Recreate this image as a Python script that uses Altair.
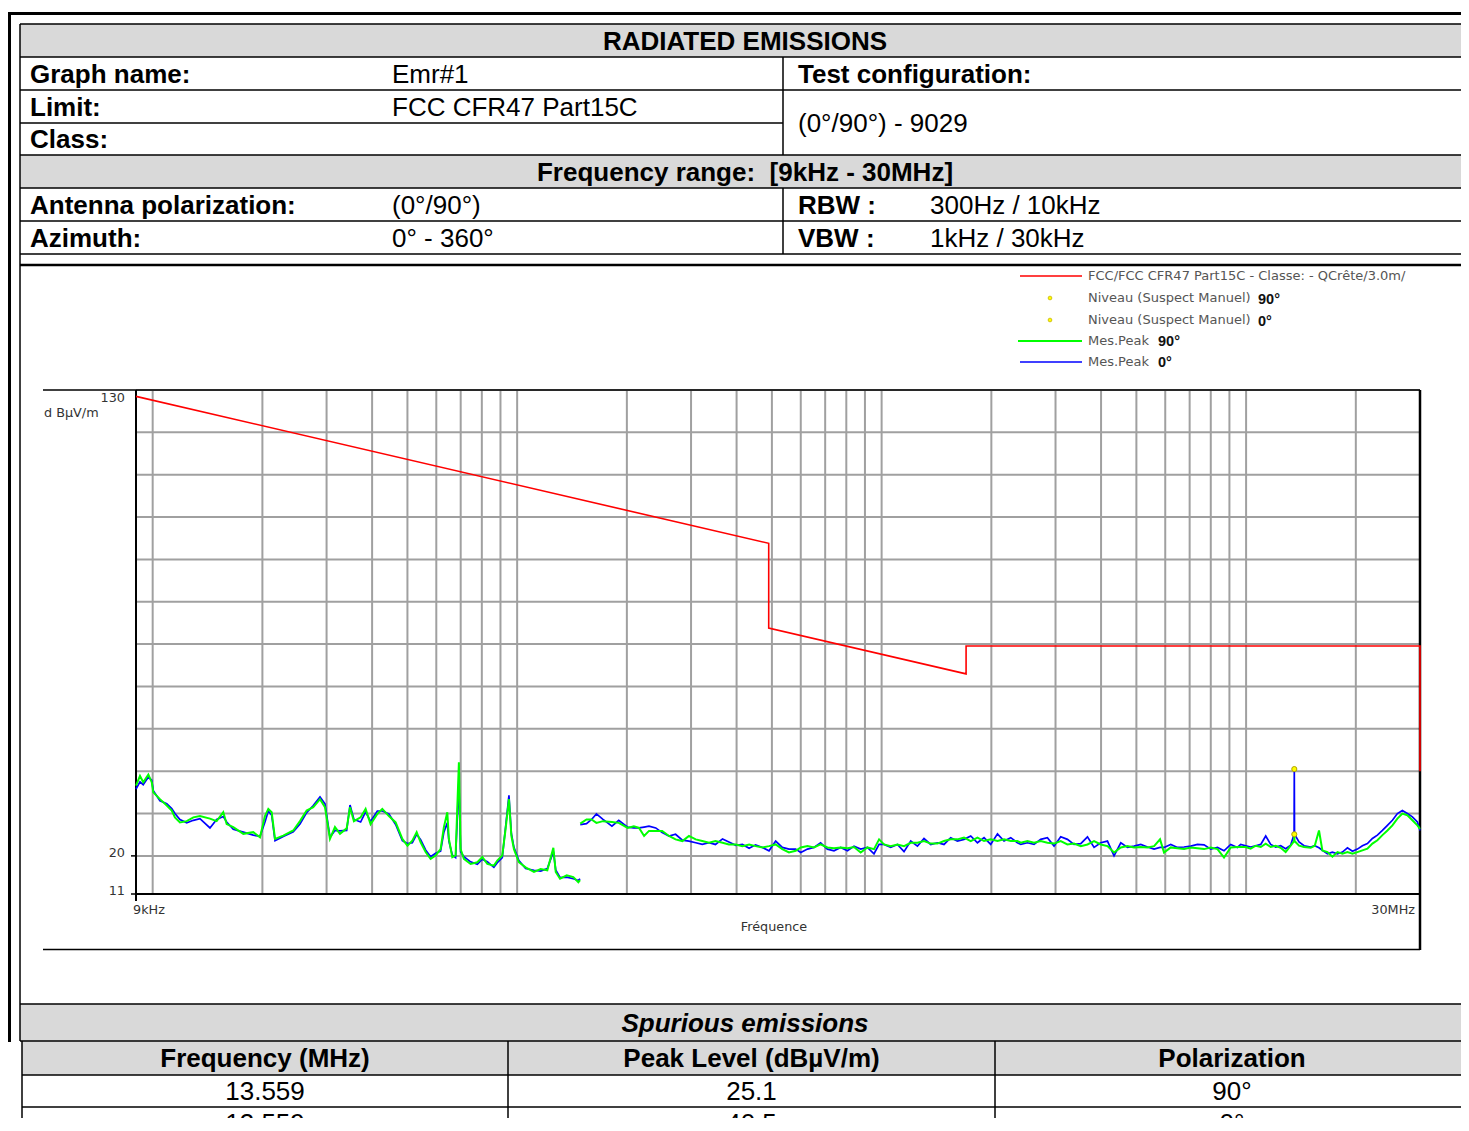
import altair as alt
import pandas as pd

# ------------------------------------------------------------------ data
report_title = "RADIATED EMISSIONS"
info_labels = ["Graph name:", "Limit:", "Class:"]
info_values = ["Emr#1", "FCC CFR47 Part15C", ""]
config_label = "Test configuration:"
config_value = "(0°/90°) - 9029"
range_label = "Frequency range:\u00a0 [9kHz - 30MHz]"
antenna_labels = ["Antenna polarization:", "Azimuth:"]
antenna_values = ["(0°/90°)", "0° - 360°"]
bw_labels = ["RBW :", "VBW :"]
bw_values = ["300Hz / 10kHz", "1kHz / 30kHz"]

legend_limit = "FCC/FCC CFR47 Part15C - Classe: - QCrête/3.0m/"
legend_suspect = "Niveau (Suspect Manuel)"
legend_peak = "Mes.Peak"
legend_pols = ["90°", "0°"]

y_unit = "d BµV/m"
x_title = "Fréquence"
x_tick_freq = [0.009, 30.0]
x_tick_text = ["9kHz", "30MHz"]
y_tick_level = [130, 20, 11]

grid_freq = [0.01, 0.02, 0.03, 0.04, 0.05, 0.06, 0.07, 0.08, 0.09,
             0.1, 0.2, 0.3, 0.4, 0.5, 0.6, 0.7, 0.8, 0.9,
             1, 2, 3, 4, 5, 6, 7, 8, 9, 10, 20]
grid_level = [20, 30, 40, 50, 60, 70, 80, 90, 100, 110, 120, 130]

limit_freq = [0.009, 0.49, 0.49, 1.705, 1.705, 30.0, 30.0]
limit_level = [128.5, 93.8, 73.8, 62.97, 69.54, 69.54, 40.0]

# 9 kHz - 150 kHz (MHz)
seg1_freq = [0.009, 0.00923, 0.00942, 0.00973, 0.00994, 0.01004, 0.01047, 0.01093, 0.01128, 0.01151,
             0.01188, 0.0124, 0.01293, 0.01348, 0.01436, 0.01498, 0.01562, 0.01596, 0.01664, 0.01773,
             0.01888, 0.0197, 0.02033, 0.02076, 0.02121, 0.02166, 0.02282, 0.02431, 0.02536, 0.02645,
             0.02758, 0.02878, 0.0297, 0.03065, 0.03163, 0.03265, 0.03406, 0.03479, 0.03566, 0.0372,
             0.03839, 0.03962, 0.04134, 0.04266, 0.04448, 0.04641, 0.04842, 0.05, 0.05157, 0.053,
             0.05435, 0.05609, 0.05788, 0.05973, 0.06165, 0.06295, 0.06432, 0.06497, 0.06638, 0.06778,
             0.06921, 0.06996, 0.07143, 0.07452, 0.07776, 0.08025, 0.08283, 0.08633, 0.0882, 0.09103,
             0.093, 0.09495, 0.0964, 0.098, 0.1011, 0.1055, 0.1112, 0.116, 0.121, 0.1257,
             0.1276, 0.1311, 0.1368, 0.1426, 0.1472, 0.1488]
seg1_green = [36.6, 38.9, 37.4, 39.2, 37.4, 35.0, 33.4, 31.9, 30.7, 29.1,
              27.9, 28.2, 29.1, 29.4, 28.8, 28.2, 30.3, 27.5, 26.8, 25.2,
              25.6, 24.4, 29.4, 31.1, 30.3, 24.0, 24.8, 26.0, 28.2, 30.7,
              31.5, 33.4, 31.5, 24.0, 26.8, 25.2, 26.5, 31.5, 28.2, 29.1,
              31.1, 27.5, 29.9, 31.1, 29.4, 27.9, 24.0, 22.4, 23.6, 25.6,
              23.2, 20.9, 19.3, 20.1, 21.6, 26.8, 30.3, 24.0, 19.7, 20.1,
              42.1, 21.6, 19.3, 18.1, 18.5, 19.7, 18.1, 17.7, 18.9, 20.1,
              26.5, 33.4, 24.8, 21.6, 18.5, 17.3, 16.2, 16.9, 16.6, 21.9,
              16.2, 14.6, 15.4, 15.0, 13.8, 14.3]
seg1_blue = [35.8, 37.5, 36.8, 38.6, 37.9, 35.4, 33.0, 32.3, 31.2, 30.0,
             28.6, 27.8, 28.4, 28.8, 26.6, 28.6, 29.3, 28.0, 26.3, 25.6,
             24.9, 24.6, 28.0, 30.6, 29.6, 23.6, 24.6, 25.7, 27.5, 30.2,
             31.9, 33.9, 32.3, 24.4, 26.0, 25.9, 26.0, 32.0, 28.6, 28.0,
             30.4, 28.1, 30.6, 30.6, 29.9, 27.4, 23.6, 22.9, 23.1, 25.1,
             23.8, 21.4, 19.8, 20.6, 21.1, 25.6, 27.8, 23.5, 20.2, 19.6,
             37.5, 21.0, 19.8, 18.6, 18.0, 19.2, 18.6, 17.3, 18.4, 19.6,
             27.0, 34.3, 25.3, 22.0, 18.9, 17.0, 16.6, 16.4, 17.0, 21.0,
             16.7, 14.9, 15.0, 14.6, 14.2, 14.6]

# 150 kHz - 30 MHz (MHz)
seg2_freq = [0.149, 0.155, 0.16, 0.165, 0.172, 0.182, 0.19, 0.201, 0.209, 0.216,
             0.223, 0.23, 0.24, 0.25, 0.261, 0.272, 0.284, 0.296, 0.309, 0.322,
             0.336, 0.35, 0.366, 0.381, 0.398, 0.415, 0.433, 0.451, 0.471, 0.491,
             0.512, 0.534, 0.557, 0.581,
             0.6, 0.626, 0.652, 0.68, 0.71, 0.74, 0.772, 0.806, 0.84, 0.876,
             0.914, 0.953, 0.984, 1.015, 1.059, 1.105, 1.152, 1.202, 1.254, 1.307,
             1.364, 1.423, 1.483, 1.547, 1.614, 1.683, 1.756, 1.832, 1.91, 1.992,
             2.079, 2.167, 2.261, 2.358,
             2.409, 2.512, 2.619, 2.732, 2.85, 2.972, 3.1, 3.234, 3.372, 3.519,
             3.671, 3.827, 3.992, 4.165, 4.342, 4.531, 4.727, 4.928, 5.141, 5.363,
             5.592, 5.806, 5.955, 6.212, 6.481, 6.756, 7.049, 7.354, 7.669, 8.0,
             8.346, 8.698, 9.074, 9.465,
             9.665, 9.975, 10.29, 10.63, 10.97, 11.32, 11.68, 12.06, 12.44, 12.84,
             13.25, 13.54, 13.559, 13.58, 13.97, 14.42, 15.04, 15.43, 15.85, 16.19,
             16.72, 17.25, 17.81, 18.38, 18.97, 19.58, 20.2, 20.85, 21.52, 22.21,
             22.92, 23.66, 24.42, 25.2, 26.01, 26.84, 27.7, 28.59, 29.51, 30.0]
seg2_green = [27.6, 28.6, 28.6, 27.8, 28.2, 28.0, 27.8, 26.6, 27.0, 26.6,
              24.7, 25.9, 25.9, 25.9, 24.7, 23.9, 23.5, 24.7, 23.9, 23.5,
              23.1, 23.5, 23.1, 22.7, 22.7, 22.3, 22.7, 22.3, 22.0, 22.3,
              22.7, 21.6, 20.8, 21.2,
              22.0, 22.3, 22.0, 22.7, 22.0, 21.8, 22.0, 21.8, 22.1, 20.8,
              22.0, 21.6, 23.9, 22.7, 22.3, 22.7, 22.3, 23.1, 23.1, 23.5,
              22.9, 22.9, 23.5, 23.9, 23.9, 24.3, 23.5, 24.3, 23.5, 23.9,
              23.5, 23.9, 23.5, 23.5,
              23.1, 23.5, 23.1, 23.5, 23.1, 22.9, 23.5, 22.7, 22.9, 22.3,
              22.7, 23.5, 22.7, 22.3, 20.8, 22.0, 22.3, 22.0, 22.1, 22.0,
              22.3, 23.9, 20.8, 22.0, 21.8, 21.6, 22.0, 21.8, 21.6, 22.0,
              21.6, 19.6, 22.0, 22.1,
              22.1, 22.1, 21.7, 22.4, 22.1, 22.9, 22.1, 22.4, 21.9, 20.9,
              22.4, 23.5, 25.1, 23.5, 22.4, 22.1, 21.9, 22.4, 26.0, 21.3,
              20.9, 19.8, 20.9, 20.5, 20.9, 20.5, 20.9, 21.3, 21.7, 22.9,
              23.7, 24.9, 26.0, 27.2, 28.8, 30.0, 29.6, 28.4, 27.2, 26.4]
seg2_blue = [27.4, 27.6, 28.6, 29.9, 28.6, 27.0, 28.4, 26.8, 26.6, 26.6,
             26.8, 27.0, 26.6, 25.5, 24.7, 25.1, 23.7, 23.5, 23.1, 22.7,
             23.1, 22.7, 24.0, 23.3, 22.5, 22.7, 21.8, 22.6, 22.0, 21.2,
             23.5, 22.0, 21.6, 21.6,
             20.8, 21.6, 22.0, 23.1, 21.6, 21.2, 22.0, 21.2, 22.3, 21.6,
             22.0, 20.5, 22.7, 22.7, 22.0, 22.7, 21.0, 23.5, 22.3, 24.1,
             22.7, 23.1, 22.7, 24.3, 23.5, 23.9, 24.7, 23.1, 24.3, 22.7,
             25.2, 23.5, 24.3, 23.1,
             22.7, 23.1, 22.7, 23.9, 24.3, 22.3, 24.5, 23.9, 22.7, 22.9,
             24.5, 22.0, 23.1, 23.5, 20.0, 23.1, 22.0, 22.3, 22.7, 22.1,
             21.6, 22.0, 22.0, 22.7, 22.0, 22.1, 22.3, 22.7, 22.6, 21.6,
             22.0, 21.2, 22.7, 22.0,
             22.7, 22.4, 22.1, 22.4, 22.7, 24.7, 22.7, 22.1, 22.4, 21.7,
             22.5, 25.1, 40.5, 25.1, 23.3, 22.4, 22.1, 22.4, 21.9, 21.3,
             20.5, 20.9, 20.5, 20.9, 21.9, 21.1, 21.6, 22.4, 22.9, 24.1,
             24.9, 26.0, 27.2, 28.4, 30.0, 30.7, 30.0, 29.2, 28.0, 26.0]

spur_title = "Spurious emissions"
spur_headers = ["Frequency (MHz)", "Peak Level (dBµV/m)", "Polarization"]
spur_freq = [13.559, 13.559]
spur_level = [25.1, 40.5]
spur_pol = ["90°", "0°"]

# ------------------------------------------------------------------ layout
OFF = 8                      # page margin
W, H = 1453, 1110
FONT = "Liberation Sans"
SMALL = "DejaVu Sans"
FS = 26                      # table font size
SFS = 12.8                   # small (plot) font size
GRAY = "#d9d9d9"


def P(v):
    return v - OFF


def base(top, bottom, fs=FS):
    return (top + bottom) / 2 + 0.36 * fs


xs = alt.Scale(type="log", domain=[0.009, 30], range=[P(136), P(1420)], nice=False)
ys = alt.Scale(type="linear", domain=[11, 130], range=[P(894), P(390)], nice=False, zero=False)


def rules_layer(segs):
    df = pd.DataFrame([{"x": P(a), "x2": P(b), "y": P(c), "y2": P(d), "w": w, "c": col}
                       for a, b, c, d, w, col in segs])
    return alt.Chart(df).mark_rule(strokeCap="butt").encode(
        x=alt.X("x:Q", scale=None, axis=None), x2="x2:Q",
        y=alt.Y("y:Q", scale=None, axis=None), y2="y2:Q",
        size=alt.Size("w:Q", scale=None, legend=None),
        color=alt.Color("c:N", scale=None, legend=None))


def rects_layer(rs):
    df = pd.DataFrame([{"x": P(a), "x2": P(b), "y": P(c), "y2": P(d), "c": col}
                       for a, b, c, d, col in rs])
    return alt.Chart(df).mark_rect().encode(
        x=alt.X("x:Q", scale=None, axis=None), x2="x2:Q",
        y=alt.Y("y:Q", scale=None, axis=None), y2="y2:Q",
        color=alt.Color("c:N", scale=None, legend=None))


def text_layer(items, **kw):
    df = pd.DataFrame([{"t": t, "x": P(x), "y": P(y)} for t, x, y in items if t])
    return alt.Chart(df).mark_text(baseline="alphabetic", **kw).encode(
        x=alt.X("x:Q", scale=None, axis=None),
        y=alt.Y("y:Q", scale=None, axis=None),
        text="t:N")


# header table geometry (page px)
hr = [24, 57, 90, 123, 155, 188, 221, 254]
COL_L, COL_V, COL_MID, COL_R, COL_RV = 30, 392, 783, 798, 930
CENTER = 745
RIGHT = 1469
# bottom table geometry
br = [1004, 1041, 1075, 1107, 1139]
bcols = [22, 508, 995, RIGHT]

backgrounds = rects_layer([
    (20, RIGHT, hr[0], hr[1], GRAY),
    (20, RIGHT, hr[4], hr[5], GRAY),
    (20, RIGHT, br[0], br[1], GRAY),
    (22, RIGHT, br[1], br[2], GRAY),
    (20, RIGHT, 265, br[0], "white"),
])

K = "#000000"
frame_rules = rules_layer([
    (8, RIGHT, 13.5, 13.5, 3, K),
    (9.5, 9.5, 12, 1042, 3, K),
    (20, 20, hr[0], br[1], 1.5, K),
    (20, RIGHT, hr[0], hr[0], 1.5, K),
    (20, RIGHT, hr[1], hr[1], 1.5, K),
    (20, RIGHT, hr[2], hr[2], 1.5, K),
    (20, COL_MID, hr[3], hr[3], 1.5, K),
    (20, RIGHT, hr[4], hr[4], 1.5, K),
    (20, RIGHT, hr[5], hr[5], 1.5, K),
    (20, RIGHT, hr[6], hr[6], 1.5, K),
    (20, RIGHT, hr[7], hr[7], 1.5, K),
    (COL_MID, COL_MID, hr[1], hr[4], 1.5, K),
    (COL_MID, COL_MID, hr[5], hr[7], 1.5, K),
    (20, RIGHT, 265, 265, 2.5, K),
    (20, RIGHT, br[0], br[0], 1.5, K),
    (20, RIGHT, br[1], br[1], 1.5, K),
    (22, RIGHT, br[2], br[2], 1.5, K),
    (22, RIGHT, br[3], br[3], 1.5, K),
    (bcols[0], bcols[0], br[1], 1131, 1.5, K),
    (bcols[1], bcols[1], br[1], 1131, 1.5, K),
    (bcols[2], bcols[2], br[1], 1131, 1.5, K),
    # plot frame
    (43, 1420, 390, 390, 1.5, K),
    (43, 1420, 949.5, 949.5, 1.5, K),
])

# ---------------- plot grid through the scales
vgrid = alt.Chart(pd.DataFrame({"f": grid_freq, "lo": 11, "hi": 130})).mark_rule(
    color="#a0a0a0", strokeWidth=2).encode(
    x=alt.X("f:Q", scale=xs, axis=None),
    y=alt.Y("lo:Q", scale=ys, axis=None), y2="hi:Q")
hgrid = alt.Chart(pd.DataFrame({"v": grid_level, "lo": 0.009, "hi": 30.0})).mark_rule(
    color="#a0a0a0", strokeWidth=2).encode(
    y=alt.Y("v:Q", scale=ys, axis=None),
    x=alt.X("lo:Q", scale=xs, axis=None), x2="hi:Q")

axis_left = alt.Chart(pd.DataFrame({"f": [0.009], "lo": [11], "hi": [130]})).mark_rule(
    color="black", strokeWidth=2).encode(
    x=alt.X("f:Q", scale=xs, axis=None), y=alt.Y("lo:Q", scale=ys, axis=None), y2="hi:Q")
axis_bottom = alt.Chart(pd.DataFrame({"v": [11], "lo": [0.009], "hi": [30.0]})).mark_rule(
    color="black", strokeWidth=2).encode(
    y=alt.Y("v:Q", scale=ys, axis=None), x=alt.X("lo:Q", scale=xs, axis=None), x2="hi:Q")
axis_right = alt.Chart(pd.DataFrame({"f": [30.0]})).mark_rule(
    color="black", strokeWidth=2.5).encode(
    x=alt.X("f:Q", scale=xs, axis=None), y=alt.value(P(390)), y2=alt.value(P(950)))
y_ticks = alt.Chart(pd.DataFrame({"v": y_tick_level[1:]})).mark_rule(
    color="black", strokeWidth=1.5).encode(
    y=alt.Y("v:Q", scale=ys, axis=None), x=alt.value(P(131)), x2=alt.value(P(136)))
x_ticks = alt.Chart(pd.DataFrame({"f": x_tick_freq})).mark_rule(
    color="black", strokeWidth=2).encode(
    x=alt.X("f:Q", scale=xs, axis=None), y=alt.value(P(894)), y2=alt.value(P(901)))


# ---------------- traces
def trace_df(freqs, levels, seg):
    return pd.DataFrame({"f": freqs, "v": levels, "seg": seg, "i": range(len(freqs))})


blue_df = pd.concat([trace_df(seg1_freq, seg1_blue, 1), trace_df(seg2_freq, seg2_blue, 2)])
green_df = pd.concat([trace_df(seg1_freq, seg1_green, 1), trace_df(seg2_freq, seg2_green, 2)])


def trace_layer(df, color, width):
    return alt.Chart(df).mark_line(color=color, strokeWidth=width).encode(
        x=alt.X("f:Q", scale=xs, axis=None),
        y=alt.Y("v:Q", scale=ys, axis=None),
        detail="seg:N", order="i:Q")


blue_line = trace_layer(blue_df, "#0000ff", 1.7)
green_line = trace_layer(green_df, "#00ff00", 2)
limit_line = trace_layer(pd.DataFrame({"f": limit_freq, "v": limit_level, "seg": 0,
                                       "i": range(len(limit_freq))}), "#ff0000", 1.6)

suspects = alt.Chart(pd.DataFrame({"f": spur_freq, "v": spur_level})).mark_point(
    shape="circle", filled=True, size=26, color="#ffff00", stroke="#b0a000",
    strokeWidth=1, opacity=1).encode(
    x=alt.X("f:Q", scale=xs, axis=None), y=alt.Y("v:Q", scale=ys, axis=None))

# ---------------- axis labels
LAB = "#333333"
y_top_label = alt.Chart(pd.DataFrame({"v": y_tick_level[:1], "t": ["130"]})).mark_text(
    font=SMALL, fontSize=SFS, color=LAB, align="right", baseline="alphabetic", dy=12).encode(
    y=alt.Y("v:Q", scale=ys, axis=None), x=alt.value(P(125)), text="t:N")
y_low_labels = alt.Chart(pd.DataFrame({"v": y_tick_level[1:],
                                       "t": [str(v) for v in y_tick_level[1:]]})).mark_text(
    font=SMALL, fontSize=SFS, color=LAB, align="right", baseline="alphabetic", dy=1).encode(
    y=alt.Y("v:Q", scale=ys, axis=None), x=alt.value(P(125)), text="t:N")
x_lab_left = alt.Chart(pd.DataFrame({"f": x_tick_freq[:1], "t": x_tick_text[:1]})).mark_text(
    font=SMALL, fontSize=SFS, color=LAB, align="left", baseline="alphabetic", dx=-3).encode(
    x=alt.X("f:Q", scale=xs, axis=None), y=alt.value(P(914)), text="t:N")
x_lab_right = alt.Chart(pd.DataFrame({"f": x_tick_freq[1:], "t": x_tick_text[1:]})).mark_text(
    font=SMALL, fontSize=SFS, color=LAB, align="right", baseline="alphabetic", dx=-5).encode(
    x=alt.X("f:Q", scale=xs, axis=None), y=alt.value(P(914)), text="t:N")
axis_titles = text_layer([(y_unit, 44, 417)], font=SMALL, fontSize=SFS, color=LAB, align="left")
x_title_l = text_layer([(x_title, 774, 931)], font=SMALL, fontSize=SFS, color=LAB, align="center")

# ---------------- legend
legend_rules = rules_layer([
    (1020, 1082, 276, 276, 1.6, "#ff0000"),
    (1018, 1082, 341, 341, 2, "#00ff00"),
    (1020, 1082, 362, 362, 1.6, "#0000ff"),
])
legend_dots = alt.Chart(pd.DataFrame({"x": [P(1050), P(1050)], "y": [P(298), P(320)]})).mark_point(
    shape="circle", filled=True, size=14, color="#ffff00", stroke="#c8b400", strokeWidth=0.8,
    opacity=1).encode(x=alt.X("x:Q", scale=None, axis=None), y=alt.Y("y:Q", scale=None, axis=None))
legend_text = text_layer([
    (legend_limit, 1088, 280),
    (legend_suspect, 1088, 302),
    (legend_suspect, 1088, 324),
    (legend_peak, 1088, 345),
    (legend_peak, 1088, 366),
], font=SMALL, fontSize=13, color="#555555", align="left")
legend_pol = text_layer([
    (legend_pols[0], 1258, 304),
    (legend_pols[1], 1258, 326),
    (legend_pols[0], 1158, 346),
    (legend_pols[1], 1158, 367),
], font=FONT, fontSize=14.5, fontWeight="bold", color="#111111", align="left")

# ---------------- table texts
bold_left = [
    (info_labels[0], COL_L, base(hr[1], hr[2])),
    (info_labels[1], COL_L, base(hr[2], hr[3])),
    (info_labels[2], COL_L, base(hr[3], hr[4])),
    (antenna_labels[0], COL_L, base(hr[5], hr[6])),
    (antenna_labels[1], COL_L, base(hr[6], hr[7])),
    (config_label, COL_R, base(hr[1], hr[2])),
    (bw_labels[0], COL_R, base(hr[5], hr[6])),
    (bw_labels[1], COL_R, base(hr[6], hr[7])),
]
plain_left = [
    (info_values[0], COL_V, base(hr[1], hr[2])),
    (info_values[1], COL_V, base(hr[2], hr[3])),
    (info_values[2], COL_V, base(hr[3], hr[4])),
    (config_value, COL_R, base(hr[2], hr[4])),
    (antenna_values[0], COL_V, base(hr[5], hr[6])),
    (antenna_values[1], COL_V, base(hr[6], hr[7])),
    (bw_values[0], COL_RV, base(hr[5], hr[6])),
    (bw_values[1], COL_RV, base(hr[6], hr[7])),
]
centers = [(bcols[i] + bcols[i + 1]) / 2 for i in range(3)]
bold_center = [
    (report_title, CENTER, base(hr[0], hr[1])),
    (range_label, CENTER, base(hr[4], hr[5])),
] + [(h, centers[i], base(br[1], br[2])) for i, h in enumerate(spur_headers)]
plain_center = []
for r in range(len(spur_freq)):
    row = [f"{spur_freq[r]:.3f}", f"{spur_level[r]:.1f}", spur_pol[r]]
    for i, t in enumerate(row):
        plain_center.append((t, centers[i], base(br[2 + r], br[3 + r])))

t_bold_left = text_layer(bold_left, font=FONT, fontSize=FS, fontWeight="bold", color="black", align="left")
t_plain_left = text_layer(plain_left, font=FONT, fontSize=FS, color="black", align="left")
t_bold_center = text_layer(bold_center, font=FONT, fontSize=FS, fontWeight="bold", color="black", align="center")
t_plain_center = text_layer(plain_center, font=FONT, fontSize=FS, color="black", align="center")
t_spur = text_layer([(spur_title, CENTER, base(br[0], br[1]))], font=FONT, fontSize=FS,
                    fontWeight="bold", fontStyle="italic", color="black", align="center")

chart = alt.layer(
    backgrounds, vgrid, hgrid, frame_rules,
    axis_left, axis_bottom, axis_right, y_ticks, x_ticks,
    blue_line, green_line, limit_line, suspects,
    y_top_label, y_low_labels, x_lab_left, x_lab_right, axis_titles, x_title_l,
    legend_rules, legend_dots, legend_text, legend_pol,
    t_bold_left, t_plain_left, t_bold_center, t_plain_center, t_spur,
).resolve_scale(
    x="independent", y="independent", color="independent", size="independent"
).properties(
    width=W, height=H, padding=0, autosize=alt.AutoSizeParams(type="none")
).configure(background="white").configure_view(strokeWidth=0)

chart.save("out.html", embed_options={"renderer": "svg", "actions": False})
